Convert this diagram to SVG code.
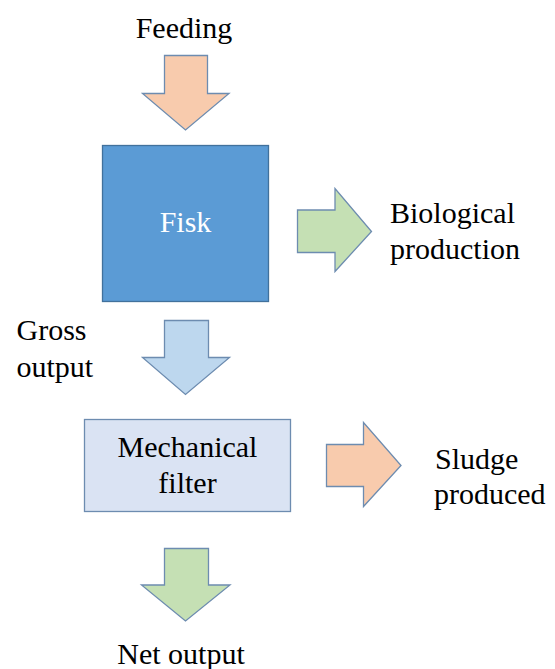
<svg xmlns="http://www.w3.org/2000/svg" width="555" height="669" viewBox="0 0 555 669">
<style>
.t{font-family:"Liberation Serif","Times New Roman",serif;font-size:30px;fill:#000}
.w{fill:#fff}
.a{stroke:#6d8cb0;stroke-width:1.3}
.or{fill:#F8CBAD}.gr{fill:#C5E0B4}.bl{fill:#BDD7EE}
</style>
<rect width="555" height="669" fill="#fff"/>
<g id="feeding-label"><text class="t" x="184" y="38" text-anchor="middle">Feeding</text></g>
<g id="fisk"><rect x="102.5" y="145.5" width="166" height="156" fill="#5B9BD5" stroke="#41719C" stroke-width="1.3"/><text class="t w" x="185.5" y="232" text-anchor="middle">Fisk</text></g>
<g id="bio-label"><text class="t" x="390" y="223">Biological</text><text class="t" x="390" y="258.5">production</text></g>
<g id="gross-label"><text class="t" x="16.5" y="340">Gross</text><text class="t" x="16.5" y="376.5">output</text></g>
<g id="filter"><rect x="84.5" y="419.5" width="206" height="92" fill="#DAE3F3" stroke="#6d8cb0" stroke-width="1.3"/><text class="t" x="187.5" y="457" text-anchor="middle">Mechanical</text><text class="t" x="187.5" y="492.5" text-anchor="middle">filter</text></g>
<g id="sludge-label"><text class="t" x="435" y="468.5">Sludge</text><text class="t" x="434" y="503.5">produced</text></g>
<g id="net-label"><text class="t" x="181" y="663.5" text-anchor="middle">Net output</text></g>
<g id="connectors">
<polygon class="a or" points="164.5,55.5 207.5,55.5 207.5,93.5 229,93.5 185.5,130 142.5,93.5 164.5,93.5"/>
<polygon class="a gr" points="297.5,210 335,210 335,188.5 371.5,231.5 335,271.5 335,252.5 297.5,252.5"/>
<polygon class="a bl" points="164.5,320.5 208.5,320.5 208.5,357.5 229.5,357.5 185.5,394.5 142.5,357.5 164.5,357.5"/>
<polygon class="a or" points="326.5,444.5 363.5,444.5 363.5,422.5 401,465.5 363.5,506.5 363.5,486.5 326.5,486.5"/>
<polygon class="a gr" points="164.5,548.5 208.5,548.5 208.5,585 230,585 185.5,621 141.5,585 164.5,585"/>
</g>
</svg>
